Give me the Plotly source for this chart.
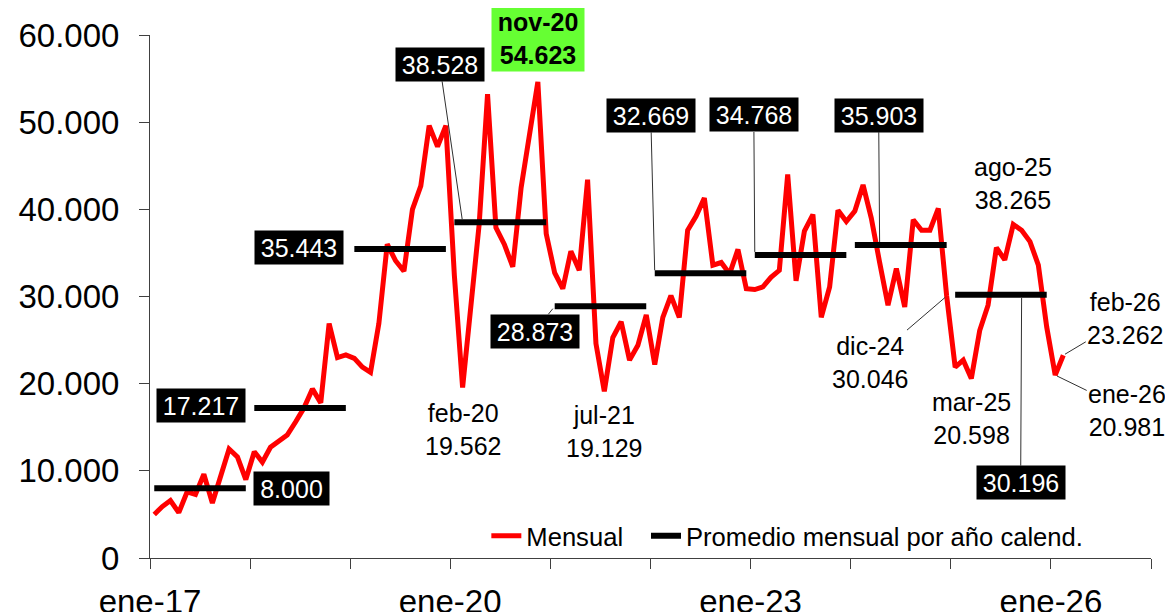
import pandas as pd
import plotly.graph_objects as go

# ---------------- data ----------------
start_month = "2017-01-01"
mensual = [
    # 2017
    5000, 5900, 6600, 5200, 7600, 7300, 9600, 6300, 9400, 12500, 11600, 9000,
    # 2018
    12200, 11000, 12700, 13400, 14100, 15600, 17200, 19400, 17800, 26900, 23000, 23300,
    # 2019
    22900, 21900, 21300, 26900, 36000, 34100, 32900, 40000, 42700, 49600, 47200, 49600,
    # 2020
    32400, 19562, 28600, 38300, 53200, 37900, 36000, 33400, 42500, 48600, 54623, 37200,
    # 2021
    32700, 30900, 35200, 33000, 43400, 24600, 19129, 25300, 27100, 22700, 24400, 27900,
    # 2022
    22200, 27600, 30100, 27600, 37600, 39200, 41300, 33600, 33900, 32600, 35400, 30900,
    # 2023
    30800, 31100, 32200, 33000, 44000, 31800, 37500, 39400, 27600, 31100, 39900, 38600,
    # 2024
    39800, 42800, 39000, 33900, 29000, 33200, 28800, 38800, 37600, 37600, 40100, 30046,
    # 2025
    21900, 22700, 20598, 26100, 29000, 35600, 34200, 38265, 37600, 36300, 33600, 26500,
    # 2026
    20981, 23262,
]
anios = [2017, 2018, 2019, 2020, 2021, 2022, 2023, 2024, 2025]
promedios = [8000, 17217, 35443, 38528, 28873, 32669, 34768, 35903, 30196]
tick_years = [2017, 2018, 2019, 2020, 2021, 2022, 2023, 2024, 2025, 2026, 2027]
tick_labels = ["ene-17", "", "", "ene-20", "", "", "ene-23", "", "", "ene-26", ""]

# labelled months: (month label, value)
etiquetas_texto = [("feb-20", 19562), ("jul-21", 19129), ("mar-25", 20598), ("ago-25", 38265)]
etiquetas_flecha = [("dic-24", 30046), ("feb-26", 23262), ("ene-26", 20981)]
maximo = ("nov-20", 54623)

mes_abbr = ["ene", "feb", "mar", "abr", "may", "jun", "jul", "ago", "sep", "oct", "nov", "dic"]

# ---------------- helpers ----------------
fechas = pd.date_range(start_month, periods=len(mensual), freq="MS")
nombres = [f"{mes_abbr[d.month-1]}-{str(d.year)[2:]}" for d in fechas]


def mid(label):
    i = nombres.index(label)
    a = fechas[i]
    b = a + pd.offsets.MonthBegin(1)
    return a + (b - a) / 2


def fmt(v):
    return f"{v:,.0f}".replace(",", ".")


# average series, one segment per calendar year
px_, py_ = [], []
for y, p in zip(anios, promedios):
    for m in range(12):
        px_.append(pd.Timestamp(year=y, month=m + 1, day=1))
        py_.append(p)
    px_.append(pd.Timestamp(year=y + 1, month=1, day=1))
    py_.append(None)

FONT = "Liberation Sans, Arial, sans-serif"

fig = go.Figure()
fig.add_trace(go.Scatter(
    x=fechas, y=mensual, mode="lines", name="Mensual",
    line=dict(color="#FF0000", width=5),
    xperiod="M1", xperiodalignment="middle", legend="legend",
))
fig.add_trace(go.Scatter(
    x=px_, y=py_, mode="lines", name="Promedio mensual por año calend.",
    line=dict(color="#000000", width=6), connectgaps=False,
    xperiod="M1", xperiodalignment="middle", legend="legend2",
))

ann = []
box = dict(bgcolor="#000000", font=dict(color="white", size=25, family=FONT),
           borderpad=2, height=29)

def year_avg(y):
    return promedios[anios.index(y)]

# boxes without visible leader (next to segment ends)
ann.append(dict(x=mid("dic-17"), y=year_avg(2017), text=fmt(year_avg(2017)), showarrow=False,
                xanchor="center", yanchor="middle", xshift=46, width=71, **box))
ann.append(dict(x=mid("ene-18"), y=year_avg(2018), text=fmt(year_avg(2018)), showarrow=False,
                xanchor="center", yanchor="middle", xshift=-53, yshift=2, width=84, **box))
ann.append(dict(x=mid("ene-19"), y=year_avg(2019), text=fmt(year_avg(2019)), showarrow=False,
                xanchor="center", yanchor="middle", xshift=-55, yshift=2, width=84, **box))

# boxes with leader lines
leaders = [
    ("feb-20", 2020, -23, -158),
    ("ene-21", 2021, -20, 25),
    ("ene-22", 2022, -4, -158),
    ("ene-23", 2023, -1, -140),
    ("abr-24", 2024, -1, -130),
    ("sep-25", 2025, -1, 188),
]
for lab, yr, ax, ay in leaders:
    ann.append(dict(x=mid(lab), y=year_avg(yr), text=fmt(year_avg(yr)), showarrow=True,
                    arrowhead=0, arrowwidth=1, arrowcolor="#303030", ax=ax, ay=ay,
                    standoff=3, width=84, **box))

# max label (green)
ann.append(dict(x=mid(maximo[0]), y=maximo[1], text=f"<b>{maximo[0]}<br>{fmt(maximo[1])}</b>",
                showarrow=False, xanchor="center", yanchor="middle", yshift=43,
                bgcolor="#66FF33", font=dict(color="black", size=25, family=FONT),
                width=88, height=61, borderpad=2))

# plain text labels
shifts = {"feb-20": -42, "jul-21": -40, "mar-25": -40, "ago-25": 41}
for lab, v in etiquetas_texto:
    ann.append(dict(x=mid(lab), y=v, text=f"{lab}<br>{fmt(v)}", showarrow=False,
                    xanchor="center", yanchor="middle", yshift=shifts[lab],
                    font=dict(color="black", size=25, family=FONT)))

# text labels with leader
arrows = {"dic-24": (-77, 66), "feb-26": (62, -37), "ene-26": (72, 35)}
for lab, v in etiquetas_flecha:
    ax, ay = arrows[lab]
    ann.append(dict(x=mid(lab), y=v, text=f"{lab}<br>{fmt(v)}", showarrow=True,
                    arrowhead=0, arrowwidth=1, arrowcolor="#303030", ax=ax, ay=ay,
                    standoff=2, font=dict(color="black", size=25, family=FONT)))

leg_common = dict(orientation="h", y=0.042, xanchor="left", yanchor="middle",
                  font=dict(size=25.6, family=FONT), bgcolor="rgba(0,0,0,0)",
                  itemwidth=30)

fig.update_layout(
    width=1173, height=612,
    # the page body adds an 8 px offset; margins compensate so the plot area
    # lands at x 150..1151, y 35..558 in the window
    margin=dict(l=142, r=30, t=27, b=62, autoexpand=False),
    paper_bgcolor="white", plot_bgcolor="white",
    font=dict(family=FONT, color="black"),
    separators=",.",
    showlegend=True,
    legend=dict(x=0.336, **leg_common),
    legend2=dict(x=0.4955, **leg_common),
    annotations=ann,
)
fig.update_xaxes(
    type="date", automargin=False,
    range=[pd.Timestamp(year=tick_years[0], month=1, day=1), pd.Timestamp(year=tick_years[-1], month=1, day=1)],
    tickvals=[pd.Timestamp(year=y, month=1, day=1) for y in tick_years],
    ticktext=tick_labels,
    ticks="outside", ticklen=10, tickcolor="#404040",
    showline=True, linecolor="#404040", linewidth=1,
    showgrid=False, zeroline=False,
    tickfont=dict(size=33, family=FONT, color="black"),
    ticklabelstandoff=4,
)
fig.update_yaxes(
    range=[0, 60000], dtick=10000, tickformat=",d", automargin=False,
    ticks="outside", ticklen=10, tickcolor="#404040",
    showline=True, linecolor="#404040", linewidth=1,
    showgrid=False, zeroline=False,
    tickfont=dict(size=33, family=FONT, color="black"),
    ticklabelstandoff=13,
)

fig.write_html("out.html")
